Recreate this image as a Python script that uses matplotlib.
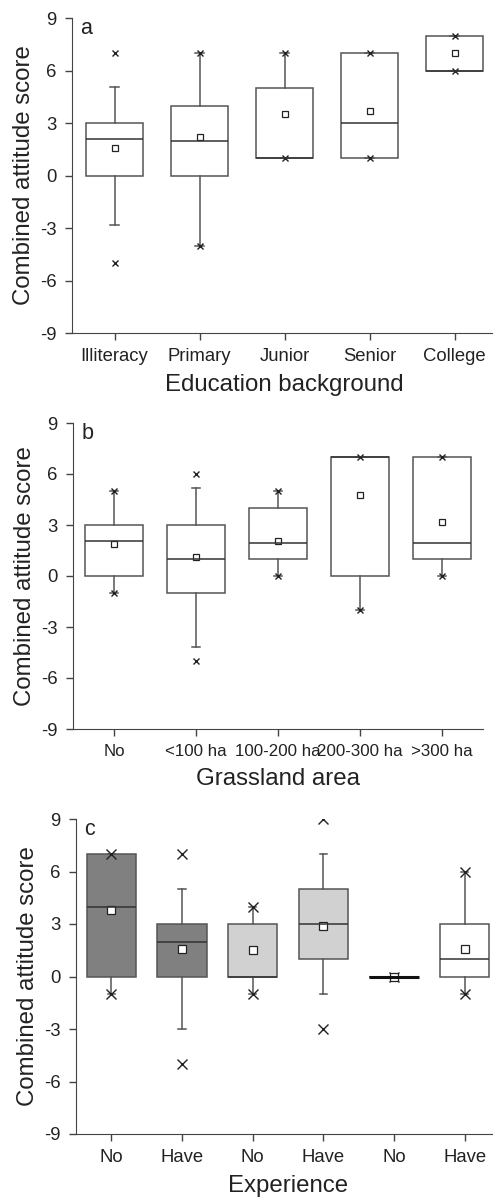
import numpy as np
import matplotlib
matplotlib.use("Agg")
import matplotlib.pyplot as plt

plt.rcParams['font.family'] = ['Liberation Sans', 'DejaVu Sans']
plt.rcParams['axes.unicode_minus'] = False

# panel a - education background
edu_labels = ["Illiteracy", "Primary", "Junior", "Senior", "College"]
edu_q1 = [0, 0, 1, 1, 6]
edu_med = [2.1, 2, 1, 3, 6]
edu_q3 = [3, 4, 5, 7, 8]
edu_lo = [-2.8, -4, 1, 1, 6]
edu_hi = [5.05, 7, 7, 7, 8]
edu_mean = [1.6, 2.2, 3.5, 3.67, 7]
edu_ext = [[7, -5], [7, -4], [7, 1], [7, 1], [8, 6]]

# panel b - grassland area
area_labels = ["No", "<100 ha", "100-200 ha", "200-300 ha", ">300 ha"]
area_q1 = [0, -1, 1, 0, 1]
area_med = [2.05, 1, 1.95, 7, 1.95]
area_q3 = [3, 3, 4, 7, 7]
area_lo = [-1, -4.15, 0, -2, 0]
area_hi = [5, 5.2, 5, 7, 7]
area_mean = [1.9, 1.1, 2.05, 4.75, 3.15]
area_ext = [[5, -1], [6, -5], [5, 0], [7, -2], [7, 0]]

# panel c - experience
exp_labels = ["No", "Have", "No", "Have", "No", "Have"]
exp_q1 = [0, 0, 0, 1, 0, 0]
exp_med = [4, 2, 0, 3, 0, 1]
exp_q3 = [7, 3, 3, 5, 0, 3]
exp_lo = [-1, -3, -1, -1, 0, -1]
exp_hi = [7, 5, 4, 7, 0, 6]
exp_mean = [3.8, 1.6, 1.5, 2.9, 0, 1.6]
exp_ext = [[7, -1], [7, -5], [4, -1], [9, -3], [0], [6, -1]]
exp_fill = ["#808080", "#808080", "#d0d1d0", "#d0d1d0", "white", "white"]

W, H = 493, 1197
fig = plt.figure(figsize=(W / 100, H / 100), dpi=100)

edge = "#555555"


def panel(rect, labels, q1, med, q3, lo, hi, mean, ext, letter, xlabel,
          fills=None, msize=4, xsize=4, width=0.68, xtsize=13.3):
    ax = fig.add_axes(rect)
    n = len(labels)
    stats = []
    for i in range(n):
        stats.append(dict(q1=q1[i], med=med[i], q3=q3[i], whislo=lo[i],
                          whishi=hi[i], fliers=[]))
    pos = np.arange(n)
    bp = ax.bxp(stats, positions=pos, widths=width, patch_artist=True,
                showfliers=False, capwidths=0.1,
                boxprops=dict(edgecolor=edge, linewidth=1.1),
                whiskerprops=dict(color=edge, linewidth=1.1),
                capprops=dict(color=edge, linewidth=1.1),
                medianprops=dict(color="#333333", linewidth=1.1))
    for i, b in enumerate(bp["boxes"]):
        b.set_facecolor(fills[i] if fills else "white")
    for i, m in enumerate(bp["medians"]):
        if q1[i] == q3[i]:
            m.set_linewidth(2.2)
            m.set_color("#111111")
    for i in range(n):
        ax.plot([pos[i]] * len(ext[i]), ext[i], ls="none", marker="x",
                ms=xsize, mew=1.0, color="#222222", clip_on=True)
    ax.plot(pos, mean, ls="none", marker="s", ms=msize, mfc="white",
            mec="#222222", mew=0.9)
    ax.set_ylim(-9, 9)
    ax.set_yticks([-9, -6, -3, 0, 3, 6, 9])
    ax.set_xlim(-0.5, n - 0.5)
    ax.set_xticks(pos)
    ax.set_xticklabels(labels)
    ax.spines[["top", "right"]].set_visible(False)
    for s in ["left", "bottom"]:
        ax.spines[s].set_color("#444444")
    ax.tick_params(direction="out", length=5, width=1, colors="#444444",
                   labelcolor="#222222", labelsize=13.3, pad=6)
    ax.tick_params(axis="x", labelsize=xtsize)
    ax.set_ylabel("Combined attitude score", fontsize=17.3, color="#222222",
                  labelpad=4)
    ax.set_xlabel(xlabel, fontsize=17.3, color="#222222", labelpad=6)
    ax.text(0.02, 1.0, letter, transform=ax.transAxes, fontsize=15.5,
            va="top", ha="left", color="#222222")
    return ax


panel([72 / W, (H - 333) / H, 425 / W, 315 / H], edu_labels, edu_q1,
      edu_med, edu_q3, edu_lo, edu_hi, edu_mean, edu_ext, "a",
      "Education background", width=0.68)
panel([73 / W, (H - 729) / H, 410 / W, 306 / H], area_labels, area_q1,
      area_med, area_q3, area_lo, area_hi, area_mean, area_ext, "b",
      "Grassland area", width=0.7, xtsize=12.2)
panel([76 / W, (H - 1134) / H, 424 / W, 315 / H], exp_labels, exp_q1,
      exp_med, exp_q3, exp_lo, exp_hi, exp_mean, exp_ext, "c",
      "Experience", fills=exp_fill, msize=6, xsize=7, width=0.7)

fig.savefig("out.png", dpi=100)
